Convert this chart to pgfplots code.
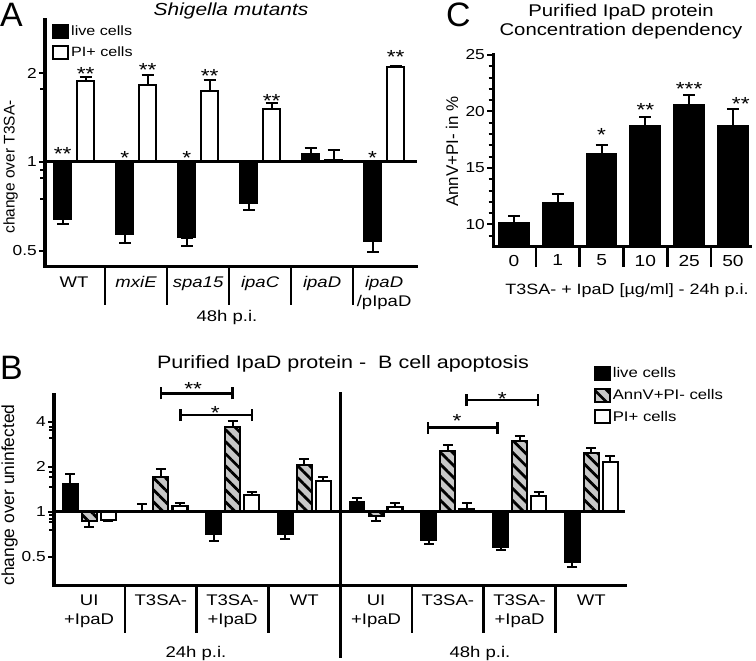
\documentclass[border=0pt]{standalone}
\usepackage{fontspec}
\setmainfont{Liberation Sans}[FakeStretch=1.2]
\newfontfamily\rotfont{Liberation Sans}
\usepackage{pgfplots}
\usepackage{pgfplotstable}
\pgfplotsset{compat=1.18}
\usetikzlibrary{patterns.meta}
\newcommand{\fs}[2]{\fontsize{#1}{#2}\selectfont}

\pgfplotstableread{
x live lep lem pi pep pem
0 0.64 0 0.025 1.88 0.06 0
1 0.57 0 0.04 1.82 0.15 0
2 0.555 0 0.035 1.74 0.16 0
3 0.725 0 0.037 1.51 0.07 0
4 1.064 0.053 0 1.015 0.083 0
5 0.542 0 0.045 2.10 0.02 0
}\tabA

\pgfplotstableread{
x live lep lem ann aep aem pi pep pem
0 1.53 0.27 0 0.87 0 0.084 0.88 0 0.01
1 1.015 0.11 0 1.70 0.23 0 1.09 0.05 0
2 0.71 0 0.07 3.67 0.39 0 1.29 0.06 0
3 0.707 0 0.047 2.05 0.20 0 1.61 0.10 0
4 1.156 0.084 0 0.93 0 0.07 1.08 0.06 0
5 0.65 0 0.04 2.55 0.24 0 1.04 0.10 0
6 0.58 0 0.03 2.99 0.22 0 1.28 0.08 0
7 0.459 0 0.035 2.46 0.22 0 2.16 0.20 0
}\tabB

\pgfplotstableread{
x y ep em
0 10.14 0.6 0
1 11.9 0.8 0
2 16.2 0.87 0
3 18.7 0.8 0
4 20.55 0.95 0
5 18.75 1.45 0
}\tabC

\tikzset{
  livebar/.style={fill=black, draw=black, line width=1.8bp},
  pibar/.style={fill=white, draw=black, line width=2.3bp},
  annbar/.style={fill=black!22, draw=black, line width=2.1bp, postaction={pattern={Lines[angle=-45,distance=8.5bp,line width=2.8bp]}}},
  star/.style={font=\fs{19}{19}, inner sep=0pt, anchor=base, yshift=-10.8bp},
  brk/.style={line width=2.6bp},
}
\pgfplotsset{
  prism/.style={
    scale only axis, anchor=south west,
    axis x line*=bottom, axis y line*=left,
    axis line style={-, line width=3bp, line cap=rect},
    tick align=outside,
    xtick style={draw=none},
    ytick style={draw=black, line width=2bp},
    major tick length=6bp, minor tick length=4.5bp,
    clip mode=individual,
    yticklabel style={font=\fs{14.5}{14.5}, inner sep=2bp},
    xticklabel style={font=\fs{15.5}{19}, align=center},
    legend image code/.code={\draw[##1] (0bp,-6.5bp) rectangle (15bp,6.5bp);},
  },
  ebar/.style={/pgfplots/error bars/y dir=both, /pgfplots/error bars/y explicit,
    /pgfplots/error bars/error bar style={line width=2bp, black},
    /pgfplots/error bars/error mark options={rotate=90, line width=2bp, black, mark size=#1}},
}

\begin{document}
\begin{tikzpicture}
\path[use as bounding box] (0,0) rectangle (756bp,661bp);

% ---------------- Panel A ----------------
\begin{axis}[prism, at={(45bp,394bp)}, width=372bp, height=247bp,
  ymode=log, log origin=0, ymin=0.4413, ymax=3.022, xmin=-0.47, xmax=5.53,
  ytick={0.5,1,2}, yticklabels={0.5,1,2}, minor ytick={0.75,0.88,0.94,1.76},
  xtick={0,...,5},
  xticklabels={WT,\textit{mxiE},\textit{spa15},\textit{ipaC},\textit{ipaD},\textit{ipaD}\\/pIpaD},
  legend style={at={(axis description cs:0.018,0.984)}, anchor=north west, draw=none, fill=none,
    font=\fs{13.5}{13.5}, row sep=5.5bp, inner sep=0pt, cells={anchor=west}},
]
\addplot[ybar, bar width=17bp, bar shift=0bp, livebar, ebar=6bp, forget plot]
  table[x expr=\thisrow{x}-0.1855, y=live, y error plus=lep, y error minus=lem]{\tabA};
\addplot[ybar, bar width=17bp, bar shift=0bp, pibar, ebar=6bp, forget plot]
  table[x expr=\thisrow{x}+0.1855, y=pi, y error plus=pep, y error minus=pem]{\tabA};
\addlegendimage{livebar}\addlegendentry{live cells}
\addlegendimage{pibar}\addlegendentry{PI+ cells}
\draw[line width=3bp] (axis cs:-0.47,1) -- (axis cs:5.53,1);
\pgfplotsinvokeforeach{0.5,1.5,2.5,3.5,4.5}{\draw[line width=2.6bp] (axis cs:#1,0.4413) -- ([yshift=-38bp]axis cs:#1,0.4413);}
\node[star] at (axis cs:-0.185,1.098) {**};
\node[star] at (axis cs:0.185,2.047) {**};
\node[star] at (axis cs:0.815,1.064) {*};
\node[star] at (axis cs:1.185,2.11) {**};
\node[star] at (axis cs:1.815,1.064) {*};
\node[star] at (axis cs:2.185,2.02) {**};
\node[star] at (axis cs:3.185,1.66) {**};
\node[star] at (axis cs:4.815,1.064) {*};
\node[star] at (axis cs:5.185,2.34) {**};
\end{axis}

% ---------------- Panel C ----------------
\begin{axis}[prism, at={(493bp,414bp)}, width=257bp, height=192bp,
  ymin=8, ymax=25, xmin=-0.48, xmax=5.39,
  ytick={10,15,20,25}, yticklabels={10,15,20,25},
  minor ytick={9,11,12,13,14,16,17,18,19,21,22,23,24},
  xtick={0,...,5}, xticklabels={0,1,5,10,25,50},
  xticklabel style={font=\fs{16}{16}, yshift=1.5bp},
]
\addplot[ybar, bar width=30bp, bar shift=0bp, livebar, ebar=6bp]
  table[x=x, y=y, y error plus=ep, y error minus=em]{\tabC};
\pgfplotsinvokeforeach{0.5,1.5,2.5,3.5,4.5}{\draw[line width=2.6bp] (axis cs:#1,8) -- ([yshift=-20bp]axis cs:#1,8);}
\node[star] at (axis cs:2,18.26) {*};
\node[star] at (axis cs:3,20.47) {**};
\node[star] at (axis cs:4,22.33) {***};
\node[star] at (axis cs:5.18,21.06) {**};
\end{axis}

% ---------------- Panel B ----------------
\begin{axis}[prism, at={(54bp,75.3bp)}, width=571bp, height=190.7bp,
  ymode=log, log origin=0, ymin=0.3196, ymax=6.04, xmin=-0.49, xmax=7.47,
  ytick={0.5,1,2,4}, yticklabels={0.5,1,2,4},
  minor ytick={0.75,0.85,0.9,0.95,1.47,1.71,1.85,3.1,3.52,3.7},
  xtick={0,...,7},
  xticklabels={UI\\+IpaD,T3SA-,T3SA-\\+IpaD,WT,UI\\+IpaD,T3SA-,T3SA-\\+IpaD,WT},
  legend style={at={(axis description cs:0.9445,1.154)}, anchor=north west, draw=none, fill=none,
    font=\fs{14}{14}, row sep=6bp, inner sep=0pt, cells={anchor=west}},
]
\addplot[ybar, bar width=15bp, bar shift=0bp, livebar, ebar=5bp, forget plot]
  table[x expr=\thisrow{x}-0.265, y=live, y error plus=lep, y error minus=lem]{\tabB};
\addplot[ybar, bar width=15bp, bar shift=0bp, annbar, ebar=5bp, forget plot]
  table[x=x, y=ann, y error plus=aep, y error minus=aem]{\tabB};
\addplot[ybar, bar width=15bp, bar shift=0bp, pibar, ebar=5bp, forget plot]
  table[x expr=\thisrow{x}+0.265, y=pi, y error plus=pep, y error minus=pem]{\tabB};
\addlegendimage{livebar}\addlegendentry{live cells}
\addlegendimage{annbar}\addlegendentry{AnnV+PI- cells}
\addlegendimage{pibar}\addlegendentry{PI+ cells}
\draw[line width=3bp] (axis cs:-0.49,1) -- (axis cs:7.47,1);
\pgfplotsinvokeforeach{0.5,1.5,2.5,4.5,5.5,6.5}{\draw[line width=2.6bp] (axis cs:#1,0.3196) -- ([yshift=-47bp]axis cs:#1,0.3196);}
\draw[line width=2.8bp] ([yshift=-72bp]axis cs:3.5,0.3196) -- ([yshift=3bp]axis cs:3.5,6.04);
% significance brackets
\draw[brk] ([yshift=-6bp]axis cs:1,6.19) -- ([yshift=6bp]axis cs:1,6.19) (axis cs:1,6.19) -- (axis cs:2,6.19) ([yshift=-6bp]axis cs:2,6.19) -- ([yshift=6bp]axis cs:2,6.19);
\draw[brk] ([yshift=-6bp]axis cs:1.27,4.43) -- ([yshift=6bp]axis cs:1.27,4.43) (axis cs:1.27,4.43) -- (axis cs:2.27,4.43) ([yshift=-6bp]axis cs:2.27,4.43) -- ([yshift=6bp]axis cs:2.27,4.43);
\draw[brk] ([yshift=-6bp]axis cs:4.724,3.65) -- ([yshift=6bp]axis cs:4.724,3.65) (axis cs:4.724,3.65) -- (axis cs:5.695,3.65) ([yshift=-6bp]axis cs:5.695,3.65) -- ([yshift=6bp]axis cs:5.695,3.65);
\draw[brk] ([yshift=-6bp]axis cs:5.258,5.59) -- ([yshift=6bp]axis cs:5.258,5.59) (axis cs:5.258,5.59) -- (axis cs:6.258,5.59) ([yshift=-6bp]axis cs:6.258,5.59) -- ([yshift=6bp]axis cs:6.258,5.59);
\node[star] at (axis cs:1.45,7.04) {**};
\node[star] at (axis cs:1.76,4.86) {*};
\node[star] at (axis cs:5.13,4.30) {*};
\node[star] at (axis cs:5.76,6.04) {*};
\end{axis}

% ---------------- texts ----------------
\node[font=\rotfont\fs{34}{34}, anchor=base west, inner sep=0pt] at (0bp,634bp) {A};
\node[font=\rotfont\fs{34}{34}, anchor=base west, inner sep=0pt] at (446bp,634bp) {C};
\node[font=\rotfont\fs{34}{34}, anchor=base west, inner sep=0pt] at (0bp,281bp) {B};
\node[font=\fs{17.5}{17.5}\itshape, anchor=base, inner sep=0pt] at (231bp,645bp) {Shigella mutants};
\node[font=\fs{17}{17}, anchor=base, inner sep=0pt] at (621bp,644.3bp) {Purified IpaD protein};
\node[font=\fs{17}{17}, anchor=base, inner sep=0pt] at (621bp,625bp) {Concentration dependency};
\node[font=\fs{18}{18}, anchor=base, inner sep=0pt] at (343bp,292.7bp) {Purified IpaD protein -\ \ B cell apoptosis};
\node[font=\fs{15.5}{15.5}, anchor=base, inner sep=0pt] at (227bp,339.3bp) {48h p.i.};
\node[font=\fs{15}{15}, anchor=base, inner sep=0pt] at (627bp,366bp) {T3SA- + IpaD [µg/ml] - 24h p.i.};
\node[font=\fs{15.5}{15.5}, anchor=base, inner sep=0pt] at (196bp,3.3bp) {24h p.i.};
\node[font=\fs{15.5}{15.5}, anchor=base, inner sep=0pt] at (480bp,3.3bp) {48h p.i.};
\node[font=\rotfont\fs{15.5}{15.5}, rotate=90, anchor=base, inner sep=0pt] at (14.5bp,494bp) {change over T3SA-};
\node[font=\rotfont\fs{17.5}{17.5}, rotate=90, anchor=base, inner sep=0pt] at (14bp,166bp) {change over uninfected};
\node[font=\rotfont\fs{17}{17}, rotate=90, anchor=base, inner sep=0pt] at (458bp,509.5bp) {AnnV+PI- in \%};
\end{tikzpicture}
\end{document}
